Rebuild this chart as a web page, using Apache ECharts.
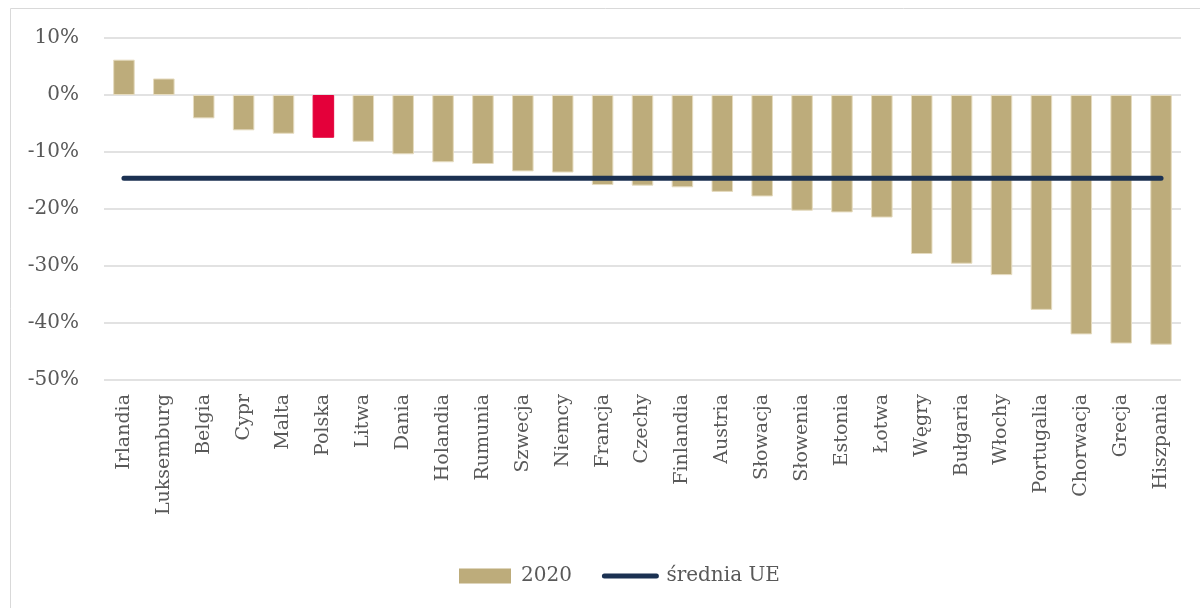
<!DOCTYPE html>
<html>
<head>
<meta charset="utf-8">
<script src="https://cdn.jsdelivr.net/npm/echarts@6/dist/echarts.min.js"></script>
<style>
  html, body { margin: 0; padding: 0; background: #fff; }
  #chart { width: 1200px; height: 608px; }
</style>
</head>
<body>
<div id="chart"></div>
<script>
const countries = ['Irlandia', 'Luksemburg', 'Belgia', 'Cypr', 'Malta', 'Polska', 'Litwa', 'Dania',
  'Holandia', 'Rumunia', 'Szwecja', 'Niemcy', 'Francja', 'Czechy', 'Finlandia', 'Austria',
  'Słowacja', 'Słowenia', 'Estonia', 'Łotwa', 'Węgry', 'Bułgaria', 'Włochy', 'Portugalia',
  'Chorwacja', 'Grecja', 'Hiszpania']
const values2020 = [6.2, 2.9, -4.1, -6.2, -6.8, -7.5, -8.2, -10.4,
  -11.8, -12.1, -13.4, -13.6, -15.8, -15.9, -16.2, -17.0,
  -17.8, -20.3, -20.6, -21.5, -27.9, -29.6, -31.6, -37.7,
  -42.0, -43.6, -43.8]
const euAverage = countries.map(() => -14.6)
const yTicks = [10, 0, -10, -20, -30, -40, -50]

const highlight = 'Polska'
const font = '"DejaVu Serif", "Liberation Serif", serif'
const textColor = '#595959'
const navy = '#1b3152'

const chart = echarts.init(document.getElementById('chart'))
chart.setOption({
  animation: false,
  textStyle: { fontFamily: font },
  graphic: [{
    type: 'rect',
    shape: { x: 10.5, y: 8.5, width: 1400, height: 800 },
    style: { fill: 'none', stroke: '#d9d9d9', lineWidth: 1 },
    silent: true
  }],
  grid: { left: 104, right: 19, top: 38, bottom: 228 },
  legend: {
    bottom: 17,
    left: 454,
    itemWidth: 52,
    itemHeight: 15,
    itemGap: 30,
    textStyle: { fontFamily: font, fontSize: 20, color: textColor, padding: [0, 0, 0, 5] },
    data: [
      { name: '2020', icon: 'rect', itemStyle: { borderWidth: 0 } },
      { name: 'średnia UE', itemStyle: { opacity: 0 }, lineStyle: { width: 5, cap: 'round', color: navy } }
    ]
  },
  xAxis: {
    type: 'category',
    data: countries,
    axisLine: { show: false },
    axisTick: { show: false },
    axisLabel: {
      rotate: 90,
      interval: 0,
      margin: 14,
      fontFamily: font,
      fontSize: 19,
      color: textColor
    }
  },
  yAxis: {
    type: 'value',
    min: -50,
    max: 10,
    interval: 10,
    axisLine: { show: false },
    axisTick: { show: false },
    splitLine: { lineStyle: { color: '#d9d9d9', width: 1.5 } },
    axisLabel: {
      margin: 25,
      fontFamily: font,
      fontSize: 20,
      color: textColor,
      formatter: v => yTicks.includes(v) ? v + '%' : ''
    }
  },
  series: [
    {
      name: '2020',
      type: 'bar',
      barWidth: '54%',
      itemStyle: { color: '#bdac7b', borderColor: '#e6dcc0', borderWidth: 1 },
      data: values2020.map((v, i) => countries[i] === highlight
        ? { value: v, itemStyle: { color: '#e4003a', borderColor: '#e4003a' } }
        : v)
    },
    {
      name: 'średnia UE',
      type: 'line',
      symbol: 'none',
      lineStyle: { color: navy, width: 5, cap: 'round' },
      itemStyle: { color: navy },
      z: 5,
      data: euAverage
    }
  ]
})
</script>
</body>
</html>
